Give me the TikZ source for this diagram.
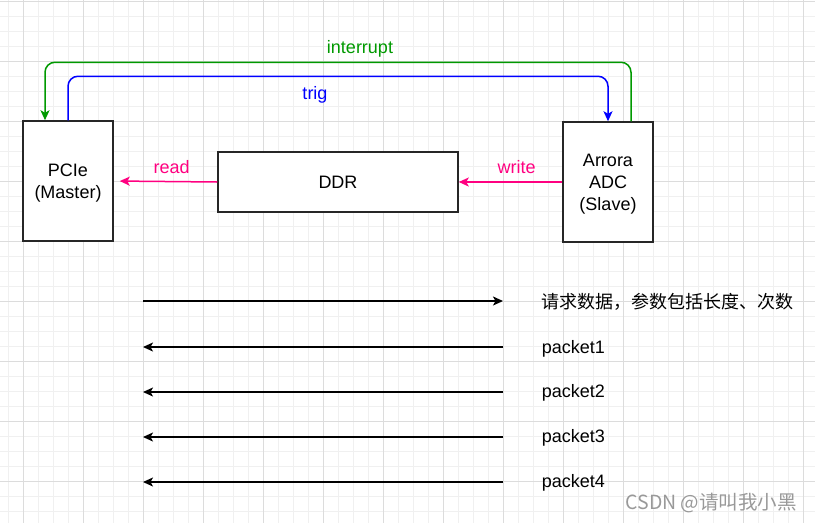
\documentclass[tikz,border=0pt]{standalone}
\usepackage{fontspec}
\setmainfont{Liberation Sans}
\newfontfamily\cjk{Noto Sans CJK SC}
\usetikzlibrary{arrows.meta}

\definecolor{intgreen}{HTML}{009900}
\definecolor{trigblue}{HTML}{0000FF}
\definecolor{datapink}{HTML}{FF0080}
\definecolor{gridminor}{HTML}{F0F0F0}
\definecolor{gridmajor}{HTML}{DCDCDC}

\def\boxw{90pt}
\def\boxh{120pt}

\begin{document}
\begin{tikzpicture}[x=1pt,y=-1pt,line width=1.5pt,
    >={Stealth[length=10pt,width=9pt,inset=2.5pt]},
    font=\fontsize{18}{22}\selectfont]
    \tikzstyle{block}=[draw=black!85,fill=white,align=center,inner sep=0pt]
    \tikzstyle{side block}=[block,minimum width=\boxw,minimum height=\boxh]
    \tikzstyle{block text}=[align=center,inner sep=0pt]
    \tikzstyle{flow}=[->,datapink,shorten >=6pt]
    \tikzstyle{loop}=[->,rounded corners=10pt]
    \tikzstyle{annot}=[anchor=west,inner sep=0pt]

    \useasboundingbox (0,0) rectangle (815,523);

    % Draw the background grid
    \foreach \x in {8,23,...,815}
        \draw[gridminor,line width=0.75pt] (\x,0) -- (\x,523);
    \foreach \y in {1,16,...,523}
        \draw[gridminor,line width=0.75pt] (0,\y) -- (815,\y);
    \foreach \x in {23,83,...,815}
        \draw[gridmajor,line width=0.75pt] (\x,0) -- (\x,523);
    \foreach \y in {1,61,...,523}
        \draw[gridmajor,line width=0.75pt] (0,\y) -- (815,\y);

    % Draw the three blocks
    \node[side block] (pcie) at (68,181) {};
    \node[block text] (pcie-text) at ([yshift=-2.5pt]pcie.center) {PCIe\\(Master)};
    \node[block,minimum width=240pt,minimum height=60pt] (ddr) at (338,182) {DDR};
    \node[side block] (adc) at (608,182) {};
    \node[block text] (adc-text) at ([yshift=-2.5pt]adc.center) {Arrora\\ADC\\(Slave)};

    % Data path through the DDR
    \draw[flow] (ddr.west) -- (pcie.east)
        node[pos=0.44,above=4pt] (readlbl) {read};
    \draw[flow,shorten >=0pt] (adc.west) -- (ddr.east)
        node[pos=0.44,above=4pt] (writelbl) {write};

    % Trigger and interrupt loops over the top
    \draw[loop,trigblue] (pcie.north) -- ++(0,-44) -| (adc.north);
    \draw[loop,intgreen] ([xshift=23pt]adc.north) -- ++(0,-59)
        -| ([xshift=-23pt]pcie.north);
    \node[text=intgreen] (intlbl) at (360,49) {interrupt};
    \node[text=trigblue] (triglbl) at (315,95) {trig};

    % Request and packet sequence
    \foreach \name / \y in {0/301,1/347,2/392,3/437,4/482} {
        \coordinate (L-\name) at (143,\y);
        \coordinate (R-\name) at (503,\y);
    }
    \draw[->] (L-0) -- (R-0);
    \foreach \name in {1,...,4}
        \draw[->] (R-\name) -- (L-\name);

    % Annotate the sequence
    \node[annot] (req) at (541,302) {\cjk 请求数据，参数包括长度、次数};
    \foreach \name / \y in {1/349,2/393,3/438,4/483}
        \node[annot] (pkt-\name) at (541,\y) {packet\name};

    \node[anchor=east,text=black!40,font=\cjk\fontsize{19.5}{22}\selectfont]
        (mark) at (801,503) {CSDN @请叫我小黑};
\end{tikzpicture}
\end{document}
